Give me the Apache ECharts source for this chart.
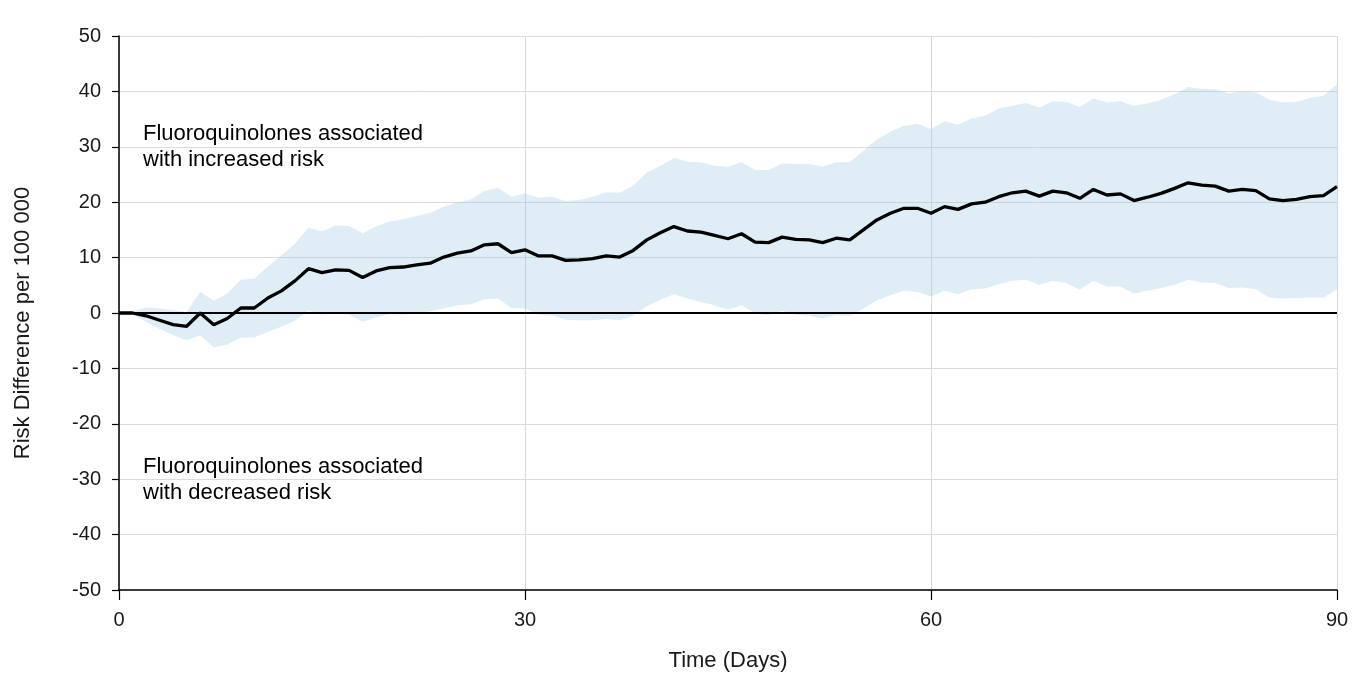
<!DOCTYPE html>
<html>
<head>
<meta charset="utf-8">
<script src="https://cdn.jsdelivr.net/npm/echarts@6/dist/echarts.min.js"></script>
<style>
html,body{margin:0;padding:0;background:#fff;}
#chart{width:1353px;height:679px;}
</style>
</head>
<body>
<div id="chart"></div>
<script>
const days = Array.from({length: 91}, (_, i) => i);
const estimate = [0,0,-0.5,-1.3,-2.1,-2.4,0,-2.1,-1.0,0.9,0.9,2.7,4.0,5.8,8.0,7.3,7.8,7.7,6.4,7.6,
  8.2,8.3,8.7,9.0,10.1,10.8,11.2,12.3,12.5,10.9,11.4,10.3,10.3,9.5,9.6,9.8,10.3,10.1,11.3,13.2,
  14.5,15.6,14.8,14.6,14.0,13.4,14.3,12.8,12.7,13.7,13.3,13.2,12.7,13.5,13.2,15.0,16.8,18.0,18.9,18.9,
  18.0,19.2,18.7,19.7,20.0,21.0,21.7,22.0,21.1,22.0,21.7,20.7,22.3,21.3,21.5,20.3,20.9,21.6,22.5,23.5,
  23.1,22.9,22.0,22.3,22.1,20.6,20.3,20.5,21.0,21.2,22.8];
const upper = [0,0.3,1.0,0.8,0.5,0.2,3.8,2.2,3.5,6.0,6.2,8.4,10.4,12.5,15.4,14.7,15.8,15.7,14.4,15.6,
  16.5,16.9,17.5,18.1,19.2,20.0,20.5,22.0,22.6,21.0,21.6,20.8,21.0,20.2,20.4,21.0,21.8,21.7,23.0,25.3,
  26.6,28.0,27.3,27.2,26.6,26.4,27.2,25.8,25.8,27.0,26.9,26.9,26.4,27.2,27.2,29.3,31.3,32.7,33.8,34.1,
  33.2,34.6,34.0,35.1,35.6,36.9,37.4,37.9,37.1,38.2,38.1,37.2,38.7,38.0,38.2,37.4,37.8,38.5,39.5,40.8,
  40.5,40.4,39.6,40.0,39.8,38.5,38.0,38.1,38.8,39.2,41.3];
const lower = [0,-0.3,-1.6,-2.9,-4.0,-4.9,-4.0,-6.2,-5.7,-4.4,-4.4,-3.4,-2.5,-1.4,0.4,-0.3,0,-0.3,-1.6,-0.8,
  -0.2,-0.3,0,0.3,0.8,1.4,1.6,2.5,2.6,0.9,0.8,-0.3,-0.4,-1.2,-1.3,-1.3,-1.1,-1.3,-0.5,1.2,
  2.4,3.4,2.6,2.0,1.4,0.6,1.4,-0.1,-0.4,0.4,-0.3,-0.5,-1.0,-0.4,-0.5,0.8,2.3,3.2,4.0,3.8,
  3.0,4.0,3.4,4.3,4.4,5.2,5.8,6.0,5.1,5.8,5.4,4.2,5.8,4.8,4.8,3.5,4.0,4.5,5.1,6.0,
  5.5,5.4,4.5,4.6,4.3,2.8,2.6,2.7,2.8,2.8,4.3];
const xTicks = [0, 30, 60, 90];
const yTicks = [-50, -40, -30, -20, -10, 0, 10, 20, 30, 40, 50];
const annotations = ['Fluoroquinolones associated\nwith increased risk', 'Fluoroquinolones associated\nwith decreased risk'];

const FONT = '"Liberation Sans", Arial, sans-serif';
const chart = echarts.init(document.getElementById('chart'), null, {renderer: 'canvas'});
chart.setOption({
  animation: false,
  backgroundColor: '#fff',
  grid: {left: 119, right: 16, top: 36, bottom: 89, containLabel: false},
  xAxis: {
    type: 'value', min: 0, max: 90, interval: 30,
    name: 'Time (Days)', nameLocation: 'middle', nameGap: 60,
    nameTextStyle: {fontSize: 22, color: '#1a1a1a', fontFamily: FONT},
    axisLine: {show: true, onZero: false, lineStyle: {color: '#000', width: 1.5}},
    axisTick: {show: true, length: 10, lineStyle: {color: '#000', width: 1.2}},
    axisLabel: {fontSize: 20, color: '#1a1a1a', margin: 20, fontFamily: FONT,
      formatter: v => xTicks.includes(v) ? String(v) : ''},
    splitLine: {show: true, lineStyle: {color: '#d9d9d9', width: 1}}
  },
  yAxis: {
    type: 'value', min: -50, max: 50, interval: 10,
    name: 'Risk Difference per 100 000', nameLocation: 'middle', nameGap: 85,
    nameTextStyle: {fontSize: 22, color: '#1a1a1a', fontFamily: FONT, padding: [0, 20, 0, 0]},
    axisLine: {show: true, onZero: false, lineStyle: {color: '#000', width: 1.5}},
    axisTick: {show: true, length: 7, lineStyle: {color: '#000', width: 1.2}},
    axisLabel: {fontSize: 20, color: '#1a1a1a', margin: 18, fontFamily: FONT,
      formatter: v => yTicks.includes(v) ? String(v) : ''},
    splitLine: {show: true, lineStyle: {color: '#dcdcdc', width: 1}}
  },
  series: [
    {
      name: 'band', type: 'custom',
      data: days.map((d, i) => [d, lower[i], upper[i]]),
      encode: {x: 0, y: [1, 2]},
      silent: true, z: 1,
      renderItem: function (params, api) {
        if (params.dataIndex !== 0) return null;
        const pts = [];
        for (let i = 0; i < days.length; i++) pts.push(api.coord([days[i], upper[i]]));
        for (let i = days.length - 1; i >= 0; i--) pts.push(api.coord([days[i], lower[i]]));
        return {
          type: 'polygon',
          shape: {points: pts},
          style: {fill: 'rgba(150,196,226,0.30)', stroke: 'none'}
        };
      }
    },
    {
      name: 'estimate', type: 'line',
      data: days.map((d, i) => [d, estimate[i]]),
      symbol: 'none', lineStyle: {color: '#000', width: 3.3}, z: 5,
      markLine: {
        silent: true, symbol: ['none', 'none'], label: {show: false},
        lineStyle: {color: '#000', width: 2.2, type: 'solid'},
        data: [{yAxis: 0}]
      }
    }
  ],
  graphic: [
    {type: 'text', left: 143, top: 121, style: {text: annotations[0], lineHeight: 26, fill: '#000', font: '22px ' + FONT}},
    {type: 'text', left: 143, top: 454, style: {text: annotations[1], lineHeight: 26, fill: '#000', font: '22px ' + FONT}}
  ]
});
</script>
</body>
</html>
